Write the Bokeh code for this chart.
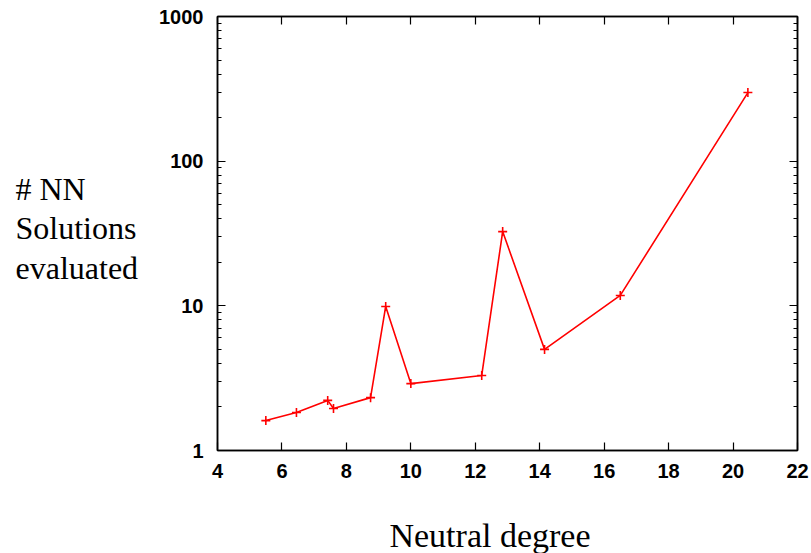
from bokeh.plotting import figure
from bokeh.models import Range1d, FixedTicker, LinearAxis, LogAxis, Label, PrintfTickFormatter, CustomJSTickFormatter
from bokeh.embed import file_html
from bokeh.resources import INLINE

# data
neutral_degree = [5.5, 6.45, 7.42, 7.6, 8.75, 9.22, 10.0, 12.2, 12.85, 14.15, 16.5, 20.46]
nn_solutions = [1.61, 1.83, 2.22, 1.95, 2.32, 9.9, 2.9, 3.3, 32.6, 5.0, 11.8, 298]
x_ticks = [4, 6, 8, 10, 12, 14, 16, 18, 20, 22]
y_ticks = [1, 10, 100, 1000]
y_minor = [m * d for d in (1, 10, 100) for m in range(2, 10)]
y_label_lines = ["# NN", "Solutions", "evaluated"]
x_label = "Neutral degree"

W, H = 811, 553
L, T, R, B = 217, 16, 14, 103

p = figure(width=W, height=H, output_backend="svg", toolbar_location=None,
           x_range=Range1d(4, 22), y_range=Range1d(1, 1000), y_axis_type="log",
           min_border_left=L, min_border_top=T, min_border_right=R, min_border_bottom=B,
           x_axis_location=None, y_axis_location=None)
p.grid.visible = False
p.outline_line_color = "black"
p.outline_line_width = 1.5
p.background_fill_color = "white"
p.border_fill_color = "white"

def style(ax, labels=True):
    ax.axis_line_color = "black"
    ax.axis_line_width = 1.5
    ax.major_tick_in = 8
    ax.major_tick_out = 0
    ax.minor_tick_in = 4
    ax.minor_tick_out = 0
    ax.major_tick_line_width = 1.2
    ax.minor_tick_line_width = 1
    ax.major_label_text_font = "Liberation Sans"
    ax.major_label_text_font_style = "bold"
    ax.major_label_text_font_size = "20px"
    ax.major_label_text_color = "black"
    if not labels:
        ax.formatter = CustomJSTickFormatter(code="return ''")

xt = FixedTicker(ticks=x_ticks, minor_ticks=[])
yt = FixedTicker(ticks=y_ticks, minor_ticks=y_minor)

xb = LinearAxis(ticker=xt); style(xb); xb.major_label_standoff = 13
xa = LinearAxis(ticker=xt); style(xa, False)
yl = LogAxis(ticker=yt, formatter=PrintfTickFormatter(format="%d")); style(yl); yl.major_label_standoff = 14
yr = LogAxis(ticker=yt); style(yr, False)

p.add_layout(xb, "below")
p.add_layout(xa, "above")
p.add_layout(yl, "left")
p.add_layout(yr, "right")

p.add_layout(Label(x=15, y=228, x_units="canvas", y_units="canvas", text="\n".join(y_label_lines),
                   text_font="Liberation Serif", text_font_size="32px", text_line_height=1.11,
                   text_align="left", text_baseline="middle", text_color="black"), "left")
p.add_layout(Label(x=489.5, y=534.5, x_units="canvas", y_units="canvas", text=x_label,
                   text_font="Liberation Serif", text_font_size="34px",
                   text_align="center", text_baseline="middle", text_color="black"), "below")

p.line(neutral_degree, nn_solutions, line_color="#ff0000", line_width=1.6)
p.scatter(neutral_degree, nn_solutions, marker="cross", size=9, line_color="#ff0000", line_width=1.6)

open("out.html", "w").write(file_html(p, INLINE))
